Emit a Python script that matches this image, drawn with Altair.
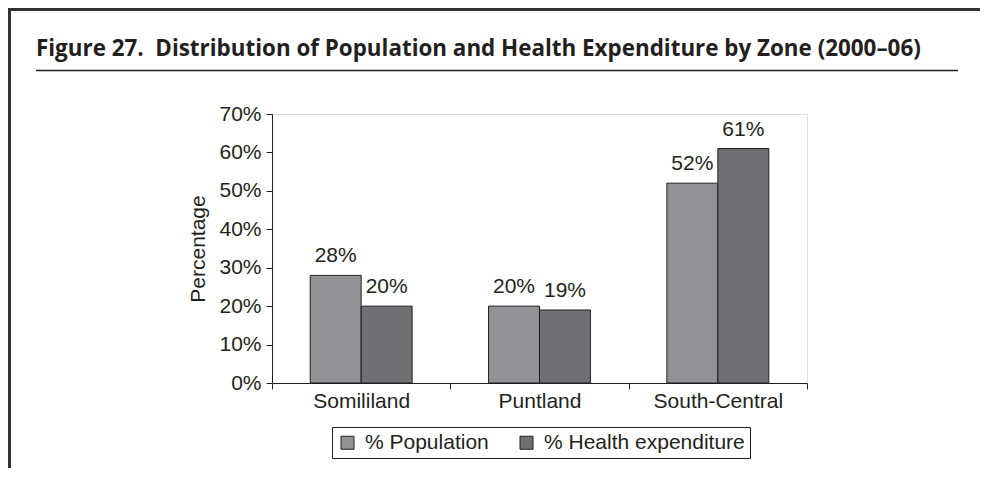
import altair as alt
import pandas as pd

zones = ["Somililand", "Puntland", "South-Central"]
series = ["% Population", "% Health expenditure"]
population = [0.28, 0.20, 0.52]
health_exp = [0.20, 0.19, 0.61]
y_ticks = [0, 0.1, 0.2, 0.3, 0.4, 0.5, 0.6, 0.7]
colors = ["#919296", "#6f7074"]
title_text = "Figure 27.\u00a0 Distribution of Population and Health Expenditure by Zone (2000\u201306)"

rows = []
for i, z in enumerate(zones):
    rows.append({"Zone": z, "Series": series[0], "Value": population[i]})
    rows.append({"Zone": z, "Series": series[1], "Value": health_exp[i]})
df = pd.DataFrame(rows)

FONT = "Liberation Sans, Arial, sans-serif"
INK = "#231f20"
FS = 21

base = alt.Chart(df).encode(
    x=alt.X("Zone:N", sort=zones,
            scale=alt.Scale(paddingInner=0, paddingOuter=0),
            axis=alt.Axis(title=None, labelAngle=0, labelFontSize=FS, labelFont=FONT,
                          labelColor=INK, tickBand="extent", tickSize=6, labelPadding=1,
                          domainColor=INK, tickColor=INK, labelBaseline="top")),
    xOffset=alt.XOffset("Series:N", sort=series,
                        scale=alt.Scale(paddingInner=0, paddingOuter=0.75)),
    y=alt.Y("Value:Q", scale=alt.Scale(domain=[0, 0.7], nice=False),
            axis=alt.Axis(title="Percentage", values=y_ticks, format=".0%", grid=False,
                          labelFontSize=FS, labelFont=FONT, labelColor=INK,
                          titleFontSize=FS, titleFont=FONT, titleFontWeight="normal",
                          titleColor=INK, titlePadding=10, tickSize=6, labelPadding=5,
                          domainColor=INK, tickColor=INK)),
)

bars = base.mark_bar(stroke=INK, strokeWidth=1).encode(
    color=alt.Color("Series:N", sort=series,
                    scale=alt.Scale(domain=series, range=colors),
                    legend=alt.Legend(title=None, orient="none", legendX=60, legendY=313,
                                      direction="horizontal", symbolType="square",
                                      symbolSize=169, symbolStrokeColor=INK,
                                      symbolStrokeWidth=1, labelFontSize=FS, labelFont=FONT,
                                      labelColor=INK, labelOffset=7, columnPadding=27,
                                      labelLimit=400, padding=5, strokeColor=INK,
                                      fillColor="white"))
)

labels = base.mark_text(baseline="alphabetic", dy=-13, fontSize=FS, font=FONT, color=INK).encode(
    text=alt.Text("Value:Q", format=".0%")
)

one = pd.DataFrame({"k": [0]})
underline = alt.Chart(one).mark_rule(color=INK, strokeWidth=1.5).encode(
    x=alt.value(-236), x2=alt.value(686), y=alt.value(-43.5))
top_border = alt.Chart(one).mark_rule(color="#333333", strokeWidth=3).encode(
    x=alt.value(-264), x2=alt.value(708), y=alt.value(-104.5))
left_border = alt.Chart(one).mark_rule(color="#333333", strokeWidth=3).encode(
    x=alt.value(-262.5), y=alt.value(-106), y2=alt.value(354))

chart = alt.layer(top_border, left_border, underline, bars, labels).properties(
    width=535, height=269,
    padding={"left": 264, "top": 106, "right": 173, "bottom": 85},
    autosize=alt.AutoSizeParams(type="none"),
    title=alt.Title(title_text, anchor="start", frame="group", dx=-236, offset=0, dy=72,
                    font="Open Sans", fontSize=22.4, fontWeight="bold", color=INK,
                    baseline="alphabetic"),
).configure_view(stroke=INK, strokeWidth=1).configure(background="white")

chart.save("out.html", embed_options={"renderer": "svg", "actions": False})
